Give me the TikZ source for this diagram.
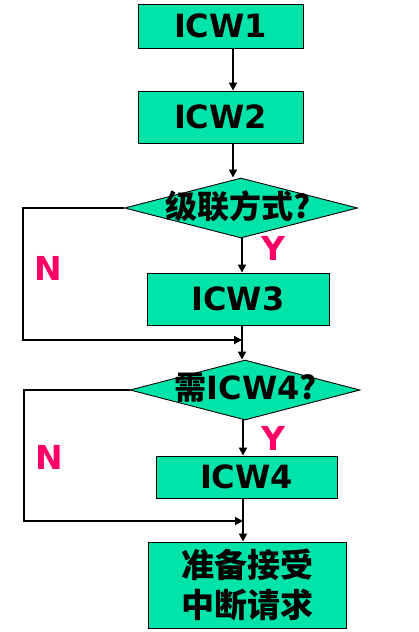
\documentclass[tikz,border=0pt]{standalone}
\usepackage{fontspec}
\setmainfont{DejaVu Sans}
\newfontfamily\cjk{Noto Sans CJK SC}
\usetikzlibrary{shapes.geometric,arrows.meta}
\definecolor{boxgreen}{RGB}{0,228,170}
\definecolor{yn}{RGB}{255,0,102}
\tikzset{
  boxnode/.style={draw=black, line width=0.9pt, fill=boxgreen, inner sep=0pt, font=\bfseries\fontsize{32}{36}\selectfont},
  decnode/.style={diamond, draw=black, line width=0.9pt, fill=boxgreen, inner sep=0pt, aspect=3.8},
  dectext/.style={inner sep=0pt, font=\bfseries\fontsize{32}{36}\selectfont},
  arr/.style={line width=1.8pt, -{Triangle[length=8pt,width=8pt]}},
  ln/.style={line width=1.8pt},
  ynlabel/.style={text=yn, inner sep=0pt, font=\bfseries\fontsize{33}{36}\selectfont}
}
\begin{document}
\begin{tikzpicture}[x=1pt,y=-1pt]
\useasboundingbox (0,0) rectangle (418,632);
\node[boxnode, minimum width=165pt, minimum height=44pt] (icw1) at (220.5,26) {ICW1};
\node[boxnode, minimum width=165pt, minimum height=52pt] (icw2) at (220.5,117) {ICW2};
\node[decnode, minimum width=233pt, minimum height=60pt] (d1) at (241,208) {};
\node[dectext] (d1t) at (238,206) {\cjk 级联方式?};
\node[boxnode, minimum width=182pt, minimum height=52pt] (icw3) at (238,299) {ICW3};
\node[decnode, minimum width=230pt, minimum height=60pt] (d2) at (245,390) {};
\node[dectext] (d2t) at (246,388) {{\cjk 需}ICW4{\cjk ?}};
\node[boxnode, minimum width=181pt, minimum height=42pt] (icw4) at (246.5,477) {ICW4};
\node[boxnode, minimum width=198pt, minimum height=86pt, align=center,
      font=\cjk\bfseries\fontsize{33}{40}\selectfont] (fin) at (247,585) {准备接受\\中断请求};
\node[ynlabel] (y1) at (273,248) {Y};
\node[ynlabel] (n1) at (48,268) {N};
\node[ynlabel] (y2) at (273,438) {Y};
\node[ynlabel] (n2) at (49,457) {N};
\coordinate (xa) at (233,0);
\coordinate (xb) at (242,0);
\coordinate (c1) at (23,208);
\coordinate (m1) at (242,340);
\coordinate (c2) at (24,390);
\coordinate (m2) at (243,521);
\draw[arr] (icw1.south -| xa) -- (icw2.north -| xa);
\draw[arr] (icw2.south -| xa) -- (xa |- d1.north);
\draw[arr] (d1.south -| xb) -- (icw3.north -| xb);
\draw[arr] (icw3.south -| m1) -- (d2.north -| m1);
\draw[arr] (d1.west) -- (c1) |- (m1);
\draw[arr] (d2.south -| m2) -- (icw4.north -| m2);
\draw[arr] (icw4.south -| m2) -- (fin.north -| m2);
\draw[arr] (d2.west) -- (c2) |- (m2);
\end{tikzpicture}
\end{document}
